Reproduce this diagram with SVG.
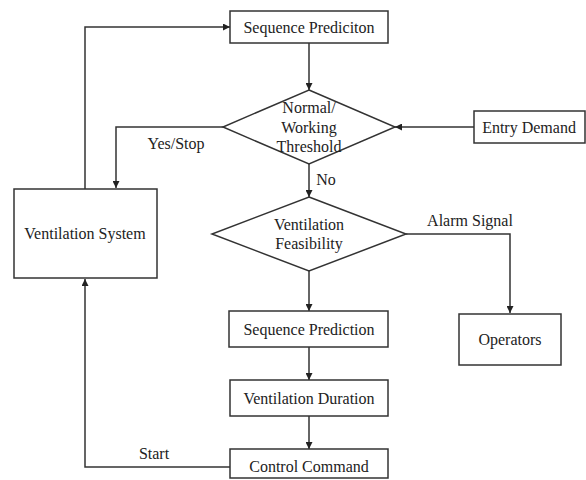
<svg xmlns="http://www.w3.org/2000/svg" width="586" height="480" viewBox="0 0 586 480">
<style>
.box{fill:#fff;stroke:#333;stroke-width:1.5}
.t{font-family:"Liberation Serif","Times New Roman",serif;font-size:16px;fill:#222;text-anchor:middle}
.c{fill:none;stroke:#333;stroke-width:1.5}
</style>
<defs>
<marker id="ah" viewBox="0 0 10 10" refX="10" refY="5" markerWidth="7" markerHeight="7" markerUnits="userSpaceOnUse" orient="auto">
<path d="M0,0 L10,5 L0,10 z" fill="#222"/>
</marker>
</defs>
<rect width="586" height="480" fill="#fff"/>
<g id="connectors">
<path class="c" d="M85,189 V27 H230" marker-end="url(#ah)"/>
<path class="c" d="M309,43 V90" marker-end="url(#ah)"/>
<path class="c" d="M474,127 H395" marker-end="url(#ah)"/>
<path class="c" d="M223,127 H116 V188" marker-end="url(#ah)"/>
<path class="c" d="M309,164 V197" marker-end="url(#ah)"/>
<path class="c" d="M406,234 H510 V313" marker-end="url(#ah)"/>
<path class="c" d="M309,271 V311" marker-end="url(#ah)"/>
<path class="c" d="M309,347 V380" marker-end="url(#ah)"/>
<path class="c" d="M309,416 V449" marker-end="url(#ah)"/>
<path class="c" d="M230,467 H85 V279" marker-end="url(#ah)"/>
<text class="t" x="176" y="149">Yes/Stop</text>
<text class="t" x="326" y="185">No</text>
<text class="t" x="470" y="226">Alarm Signal</text>
<text class="t" x="154" y="459">Start</text>
</g>
<g id="seq1">
<rect class="box" x="230" y="11" width="158" height="32"/>
<text class="t" x="309" y="33">Sequence Prediciton</text>
</g>
<g id="threshold">
<path class="box" d="M309,90 L395,127 L309,164 L223,127 Z"/>
<text class="t" x="309" y="113">Normal/</text>
<text class="t" x="309" y="133">Working</text>
<text class="t" x="309" y="152">Threshold</text>
</g>
<g id="entry">
<rect class="box" x="474" y="111" width="111" height="32"/>
<text class="t" x="529" y="133">Entry Demand</text>
</g>
<g id="ventsys">
<rect class="box" x="14" y="189" width="143" height="89"/>
<text class="t" x="85" y="239">Ventilation System</text>
</g>
<g id="feas">
<path class="box" d="M309,197 L406,234 L309,271 L212,234 Z"/>
<text class="t" x="309" y="230">Ventilation</text>
<text class="t" x="309" y="249">Feasibility</text>
</g>
<g id="operators">
<rect class="box" x="459" y="314" width="102" height="51"/>
<text class="t" x="510" y="345">Operators</text>
</g>
<g id="seq2">
<rect class="box" x="229" y="311" width="159" height="36"/>
<text class="t" x="309" y="335">Sequence Prediction</text>
</g>
<g id="duration">
<rect class="box" x="230" y="380" width="158" height="36"/>
<text class="t" x="309" y="404">Ventilation Duration</text>
</g>
<g id="control">
<rect class="box" x="230" y="449" width="158" height="29"/>
<text class="t" x="309" y="472">Control Command</text>
</g>
</svg>
